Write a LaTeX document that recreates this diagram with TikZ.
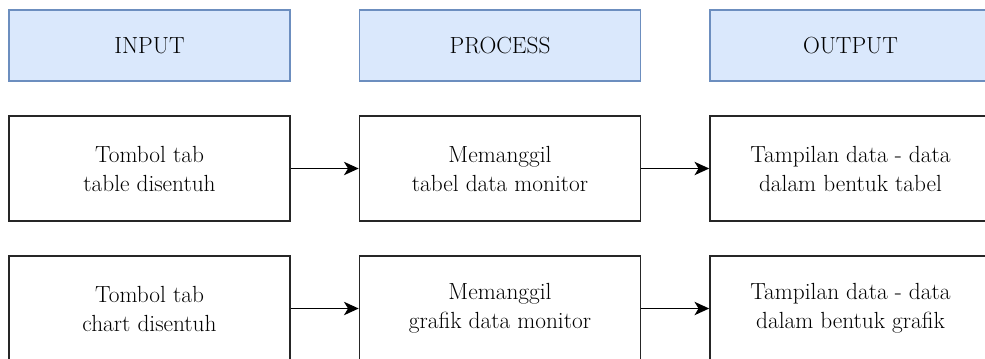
\documentclass[tikz,border=0pt]{standalone}
\usepackage{fontspec}
\usetikzlibrary{arrows.meta}

\definecolor{headfill}{HTML}{DAE8FC}
\definecolor{headline}{HTML}{6C8EBF}

\tikzset{
  head/.style={draw=headline, fill=headfill, line width=1pt,
    minimum width=210.75pt, minimum height=53.25pt, inner sep=0pt,
    font=\fontsize{17.5}{21.75}\selectfont},
  stepbox/.style={draw=black!85, fill=white, line width=1.2pt,
    minimum width=210.75pt, minimum height=78.75pt, inner sep=0pt,
    align=center, font=\fontsize{17.5}{21.75}\selectfont},
  flow/.style={-{Stealth[length=11pt,width=10pt,inset=3pt]}, line width=1.2pt}
}

\begin{document}
\begin{tikzpicture}[x=0.75pt,y=-0.75pt]
                \clip (0,0) rectangle (985,358);
                \fill[white] (0,0) rectangle (985,358);

                \node[head] (input) at (149.5,45.5) {INPUT};
                \node[head] (process) at (500,45.5) {PROCESS};
                \node[head] (output) at (850.5,45.5) {OUTPUT};

                \node[stepbox] (intab) at (149.5,168.5) {Tombol tab\\table disentuh};
                \node[stepbox] (proctab) at (500,168.5) {Memanggil\\tabel data monitor};
                \node[stepbox] (outtab) at (850.5,168.5) {Tampilan data - data\\dalam bentuk tabel};

                \node[stepbox] (inchart) at (149.5,308.5) {Tombol tab\\chart disentuh};
                \node[stepbox] (procchart) at (500,308.5) {Memanggil\\grafik data monitor};
                \node[stepbox] (outchart) at (850.5,308.5) {Tampilan data - data\\dalam bentuk grafik};

                \draw[flow] (intab) -- (proctab);
                \draw[flow] (proctab) -- (outtab);
                \draw[flow] (inchart) -- (procchart);
                \draw[flow] (procchart) -- (outchart);
            \end{tikzpicture}
\end{document}
